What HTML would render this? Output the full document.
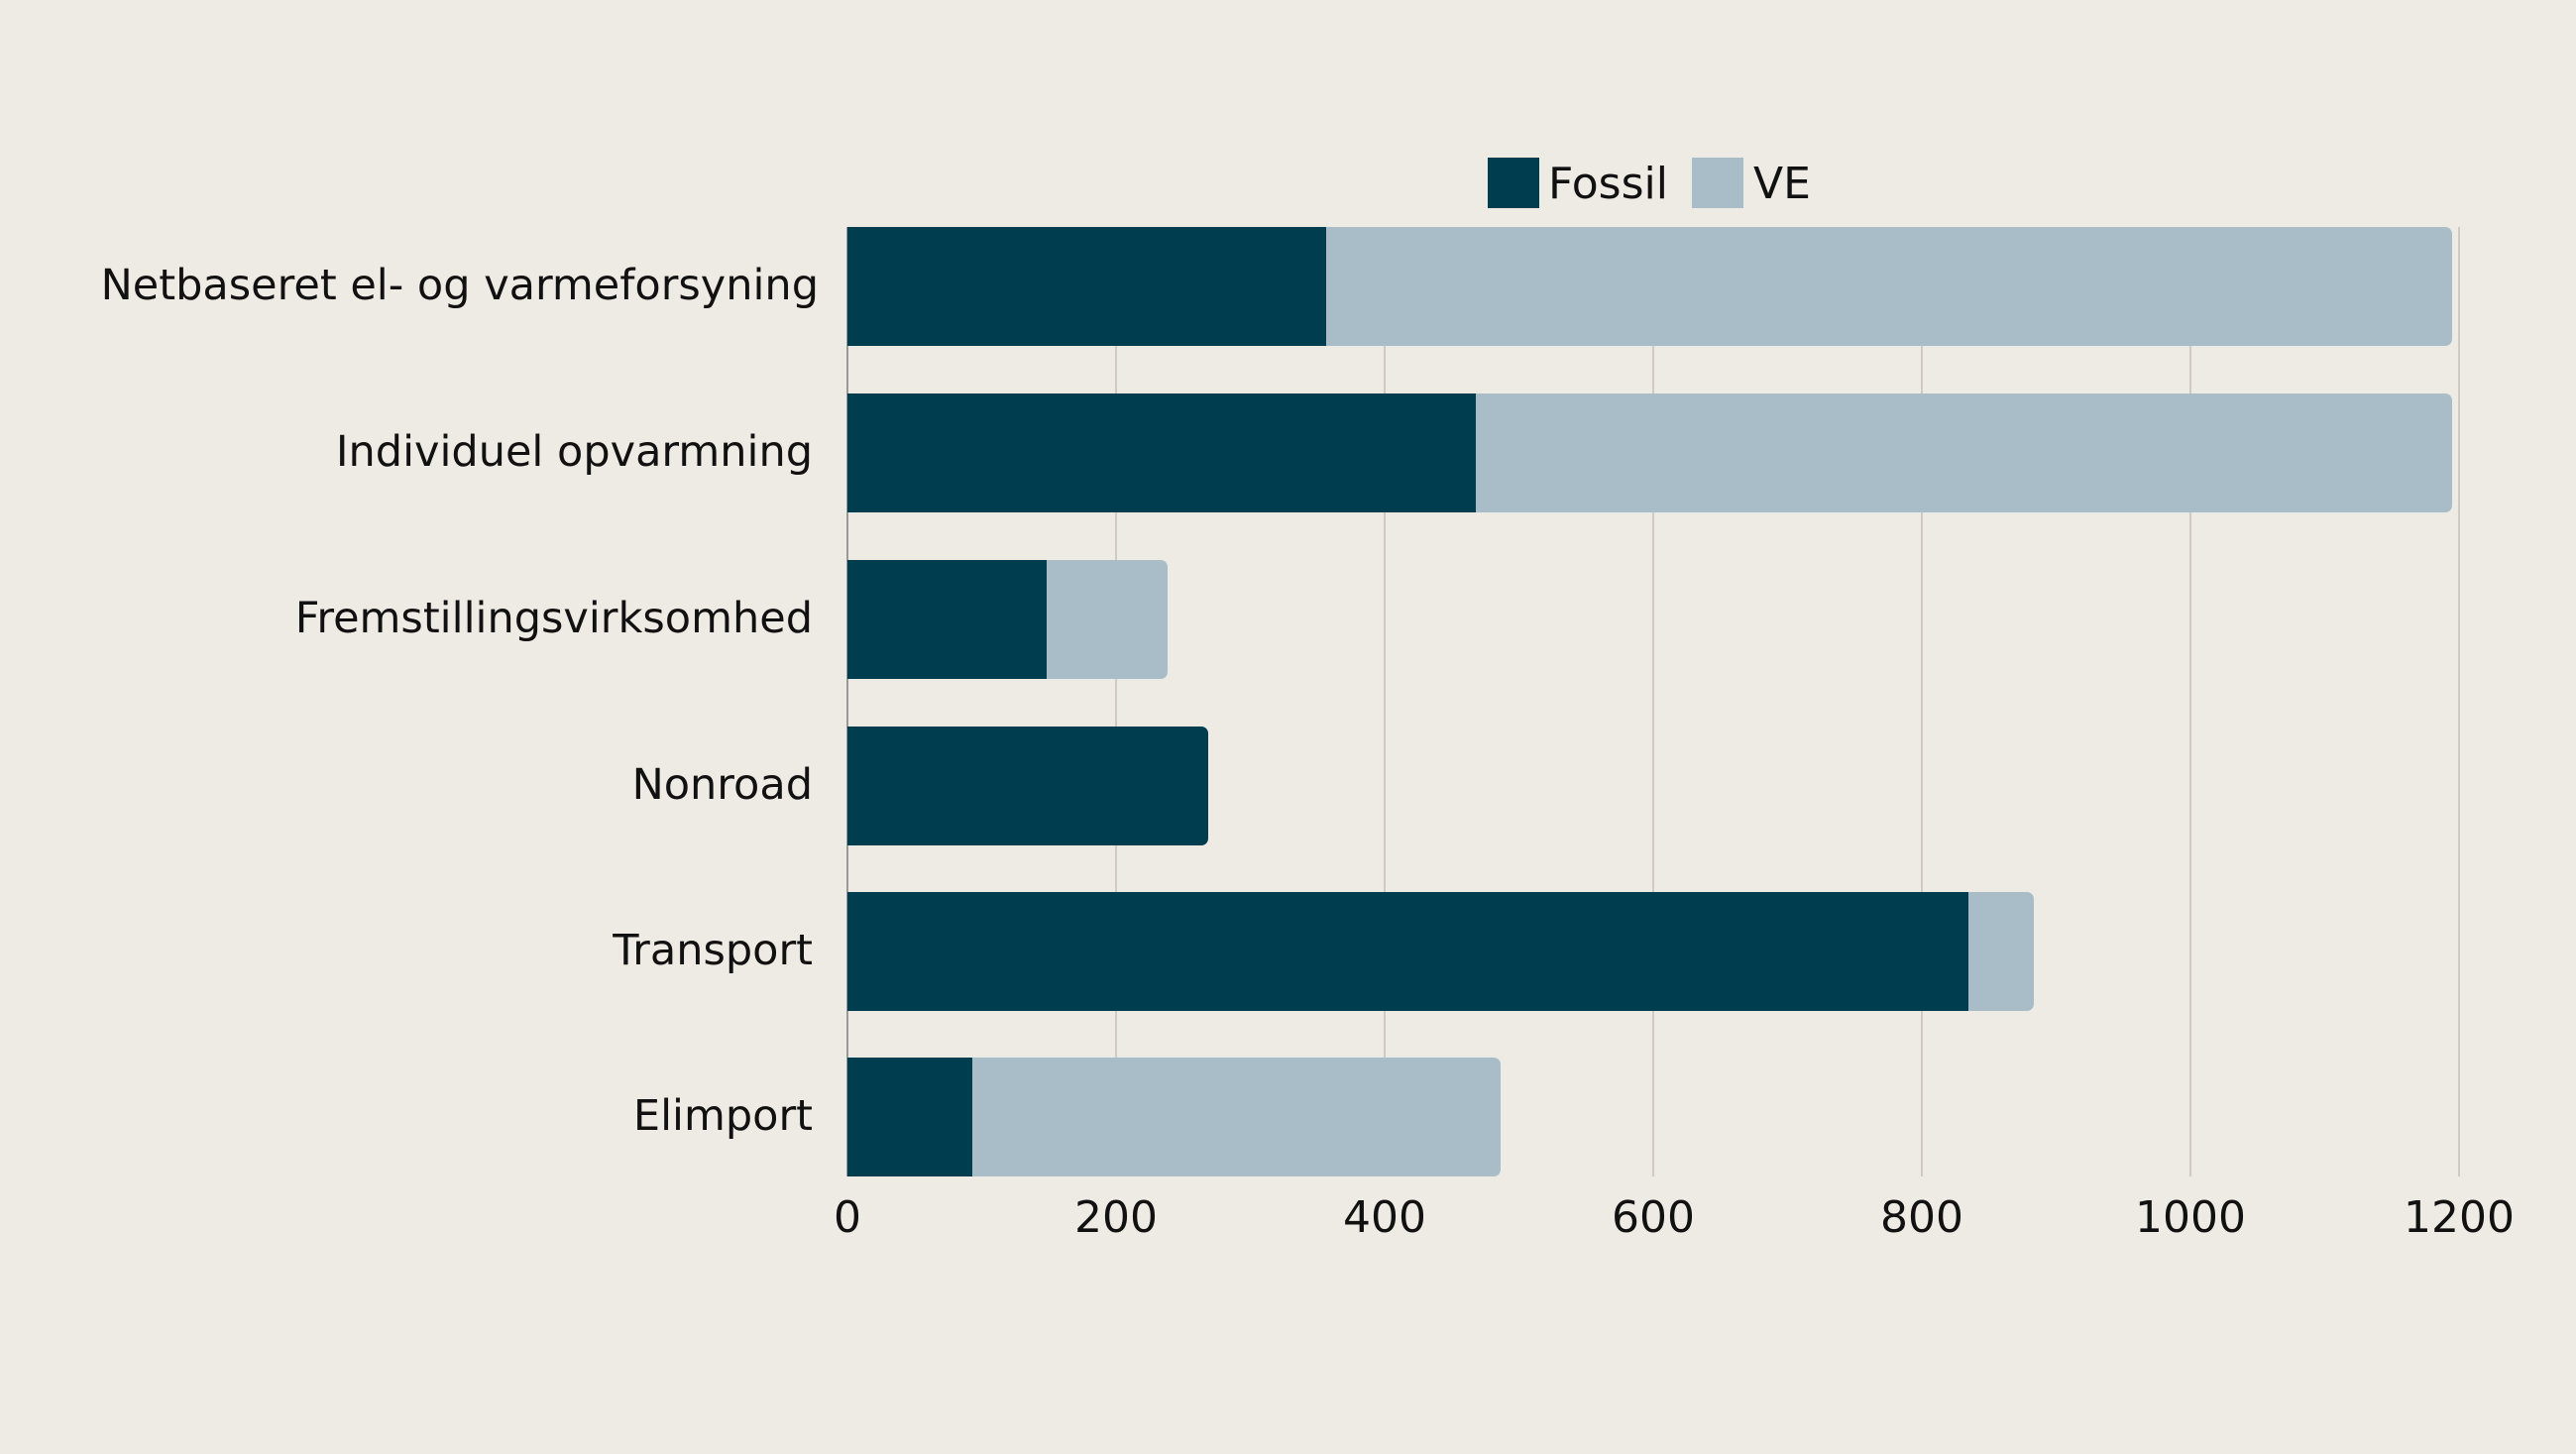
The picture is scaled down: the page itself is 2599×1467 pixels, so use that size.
<!DOCTYPE html>
<html><head><style>html,body{margin:0;padding:0;background:#eeebe4;}</style></head>
<body>
<svg width="2599" height="1462" xmlns="http://www.w3.org/2000/svg" font-family="DejaVu Sans, Liberation Sans, sans-serif">
<rect width="2599" height="1462" fill="#eeebe4"/>
<g stroke="#cfcbc4" stroke-width="2">
<line x1="1126" y1="229" x2="1126" y2="1187"/>
<line x1="1397" y1="229" x2="1397" y2="1187"/>
<line x1="1668" y1="229" x2="1668" y2="1187"/>
<line x1="1939" y1="229" x2="1939" y2="1187"/>
<line x1="2210" y1="229" x2="2210" y2="1187"/>
<line x1="2481" y1="229" x2="2481" y2="1187"/>
</g>
<line x1="855" y1="229" x2="855" y2="1187" stroke="#999" stroke-width="2"/>
<g>
<rect x="855" y="229" width="1619" height="120" rx="7" fill="#a8bdc8"/>
<rect x="855" y="229" width="483" height="120" fill="#003d4f"/>
<rect x="855" y="397" width="1619" height="120" rx="7" fill="#a8bdc8"/>
<rect x="855" y="397" width="634" height="120" fill="#003d4f"/>
<rect x="855" y="565" width="323" height="120" rx="7" fill="#a8bdc8"/>
<rect x="855" y="565" width="201" height="120" fill="#003d4f"/>
<rect x="855" y="733" width="364" height="120" rx="7" fill="#003d4f"/>
<rect x="855" y="733" width="300" height="120" fill="#003d4f"/>
<rect x="855" y="900" width="1197" height="120" rx="7" fill="#a8bdc8"/>
<rect x="855" y="900" width="1131" height="120" fill="#003d4f"/>
<rect x="855" y="1067" width="659" height="120" rx="7" fill="#a8bdc8"/>
<rect x="855" y="1067" width="126" height="120" fill="#003d4f"/>
</g>
<g font-size="43" fill="#111" text-anchor="end">
<text x="826" y="302">Netbaseret el- og varmeforsyning</text>
<text x="820" y="470">Individuel opvarmning</text>
<text x="820" y="638">Fremstillingsvirksomhed</text>
<text x="820" y="806">Nonroad</text>
<text x="820" y="973">Transport</text>
<text x="820" y="1140">Elimport</text>
</g>
<g font-size="44" fill="#111" text-anchor="middle">
<text x="855" y="1243">0</text>
<text x="1126" y="1243">200</text>
<text x="1397" y="1243">400</text>
<text x="1668" y="1243">600</text>
<text x="1939" y="1243">800</text>
<text x="2210" y="1243">1000</text>
<text x="2481" y="1243">1200</text>
</g>
<rect x="1501" y="159" width="52" height="51" fill="#003d4f"/>
<text x="1562" y="200" font-size="44" fill="#111">Fossil</text>
<rect x="1707" y="159" width="52" height="51" fill="#a8bdc8"/>
<text x="1769" y="200" font-size="44" fill="#111">VE</text>
</svg>
</body></html>
